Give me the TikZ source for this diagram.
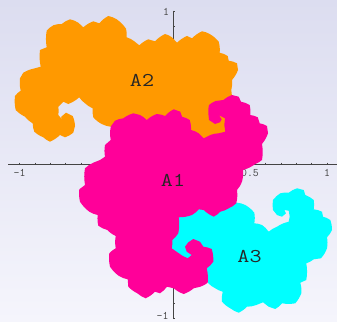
\documentclass[tikz,border=0pt]{standalone}
\definecolor{orangeA}{HTML}{FF9900}
\definecolor{pinkA}{HTML}{FF0099}
\definecolor{cyanA}{HTML}{00FFFF}
\definecolor{bgtop}{RGB}{220,221,240}
\definecolor{bgbot}{RGB}{245,245,252}
\definecolor{axisgrey}{HTML}{444444}
\tikzset{
  region/.style={line width=0pt,every to/.style={bend left=9}},
  ticklabel/.style={inner sep=0pt,text=axisgrey,font=\fontsize{11.5}{12}\selectfont\ttfamily},
  regionlabel/.style={inner sep=0pt,text=black!85,font=\fontsize{19.5}{21}\selectfont\ttfamily},
  axisline/.style={draw=axisgrey,line width=0.9pt},
  tickmark/.style={draw=axisgrey,line width=0.7pt}
}
\begin{document}
\begin{tikzpicture}[x=1pt,y=-1pt]
\useasboundingbox (0,0) rectangle (337,321);
\shade[top color=bgtop,bottom color=bgbot] (0,0) rectangle (337,321);
% axes
\coordinate (xl) at (8,164.6);
\coordinate (xr) at (337,164.6);
\coordinate (yt) at (173.4,10.6);
\coordinate (yb) at (173.4,319);
\draw[axisline] (xl) -- (xr);
\draw[axisline] (yt) -- (yb);
\foreach \i in {-10,...,10}{
  \draw[tickmark] ({173.4+15.37*\i},162.6) -- ({173.4+15.37*\i},164.6);
  \draw[tickmark] (173.4,{164.8+15.37*\i}) -- (175.4,{164.8+15.37*\i});
}
\node[ticklabel] (xm1) at (19.5,172.5) {-1};
\node[ticklabel] (xm5) at (96,172.5) {-0.5};
\node[ticklabel] (xp5) at (250,172.5) {0.5};
\node[ticklabel] (xp1) at (327,172.5) {1};
\node[ticklabel] (yp1) at (166,11.5) {1};
\node[ticklabel] (ym1) at (162.5,316) {-1};
% A2
\fill[orangeA,region] (46.7,30.7) to (53.3,25.3) to (61.7,24) to (70,19.3) to (78.3,22.7) to (83.3,27.3) to (93.3,21.3) to (99.3,23.3) to (108.3,16) to (116.7,19.3) to (126,28.7) to (126.7,37.3) to (134.3,41.3) to (139.3,45.3) to (148.3,39.3) to (155,41.3) to (165,34) to (172,37.3) to (177,42.7) to (187,36) to (192,38.3) to (202,31.3) to (209.7,34) to (218.7,41.7) to (219.7,52.7) to (227.7,56) to (228.7,60.7) to (237,63.3) to (238,70) to (232,80) to (231.3,90) -- (232,97) -- (235,125) -- (230,140) -- (205,145) -- (150,135) -- (112,128) -- (110.7,126.7) to (101.7,124) to (93.3,117.3) to (92.7,108.3) to (85,103.3) to (79.3,97.3) to (68.3,104) to (63.3,101.7) to (58.3,106.7) to (58.3,115) -- (63.3,120.7) -- (61,117) to (66,112.7) to (72.7,116) to (75,126) to (73.3,132.7) to (65,137.3) to (60,135) to (50,141.7) to (43.3,137.3) to (34.3,131.7) to (32.7,123.3) to (25,116.7) to (15.7,110) to (15,96) to (20.7,90.7) to (20,78.3) to (23.3,72.7) to (35,68.3) to (40.7,66.7) to (40,50) to (46.7,47.3) to (46.7,30.7) -- cycle;
% A3
\fill[cyanA,region] (237,202.7) to (245.3,205) to (254.3,212.7) to (254.3,223.3) to (262,225) to (268.7,231.7) to (277,226.7) to (288.7,221.7) -- (289.7,216.7) -- (288.7,210.7) -- (284.3,210) -- (286,213.3) -- (282,216.7) -- (277,215) to (273,210) to (273,200) to (280.3,193.3) to (288.7,192.7) to (297,188.3) to (303.7,190) to (305.3,195) to (313.7,200) to (313.7,209.3) to (322,211.7) to (323,216.7) to (330.3,220) to (332,230) to (327,237.3) to (327,248.3) to (321,258.3) to (313.7,259.3) to (306.3,263.3) to (306.3,280) to (300.3,282.7) to (301.3,293.3) to (295.3,303.3) to (282,303.3) to (275.3,309) to (268.7,306.7) to (263,302.3) to (256.3,305) to (247,306.7) to (238.7,312.7) to (230.3,308.3) to (222,301.7) to (222.7,291.7) to (215.3,288.3) to (207.7,282.7) -- (205,270) -- (195,262) -- (180,262) -- (168,250) -- (170,235) -- (175,215) -- (200,205) -- (225,200) -- cycle;
% A1
\fill[pinkA,region] (110.7,126.7) to (115,120.7) to (123.3,118.3) to (133.3,113.3) to (140,115) to (146.7,120) to (156.7,114) to (165,116) to (173.7,109.3) to (180.3,111.7) to (182,116.7) to (189.7,120) to (191,130) to (198.7,133.3) to (203.7,138.3) to (210.3,135) to (218.7,133.3) to (225.3,131.7) -- (224.3,125) -- (225,118.3) -- (219,115.3) -- (221.7,119.3) -- (220,122.3) -- (215,124) -- (209,120) to (208.3,113.3) to (209,105) to (215.7,101) to (223.3,100) to (232,95) to (238.7,96.7) to (241,101.7) to (249.7,105) to (250.3,115) to (257.7,117.3) to (259.7,123.3) to (267,126) to (268,133.3) to (262,144) to (262,160) to (255.3,164) to (243,170) to (242,181.7) to (237,190) to (236.3,203.3) to (228.7,208.3) to (220.3,211.7) to (213.7,216.7) to (203.7,210) to (198.7,209.3) to (192,215) to (178.7,217.3) to (178.3,233.3) to (172.3,240) to (171.7,248.3) -- (182.3,255.7) -- (187.7,258.3) -- (191.7,255) -- (186.7,251.7) -- (185,246.7) -- (188.3,242.3) -- (193.3,239) to (200,241.7) to (203.3,246.7) to (211.7,249) to (213.3,261.7) to (206.7,268.3) to (207.7,282.7) to (200.3,286.7) to (193.7,288.3) to (183.7,294) to (173.7,288.3) to (167,286.7) to (160,293.3) to (155,291.7) to (145.7,298.3) to (137.3,293.3) to (128.3,286.7) to (127.7,279.3) to (119,276) to (110,266.7) to (109.3,253.3) to (115.7,248.3) to (115.7,236) to (107.3,230) to (98.3,225.7) to (97.7,215) to (89.3,211.7) to (80,201.7) to (79.3,189.3) to (85,185) to (85,168.3) to (93.3,162.7) to (100,160) to (105,156.7) to (105,145) to (110.7,140) to (110.7,126.7) -- cycle;
% labels
\node[regionlabel] (A2) at (142,80) {\scalebox{1.2}[1]{A2}};
\node[regionlabel] (A1) at (173,180) {\scalebox{1.2}[1]{A1}};
\node[regionlabel] (A3) at (249.5,257) {\scalebox{1.2}[1]{A3}};
\end{tikzpicture}
\end{document}
